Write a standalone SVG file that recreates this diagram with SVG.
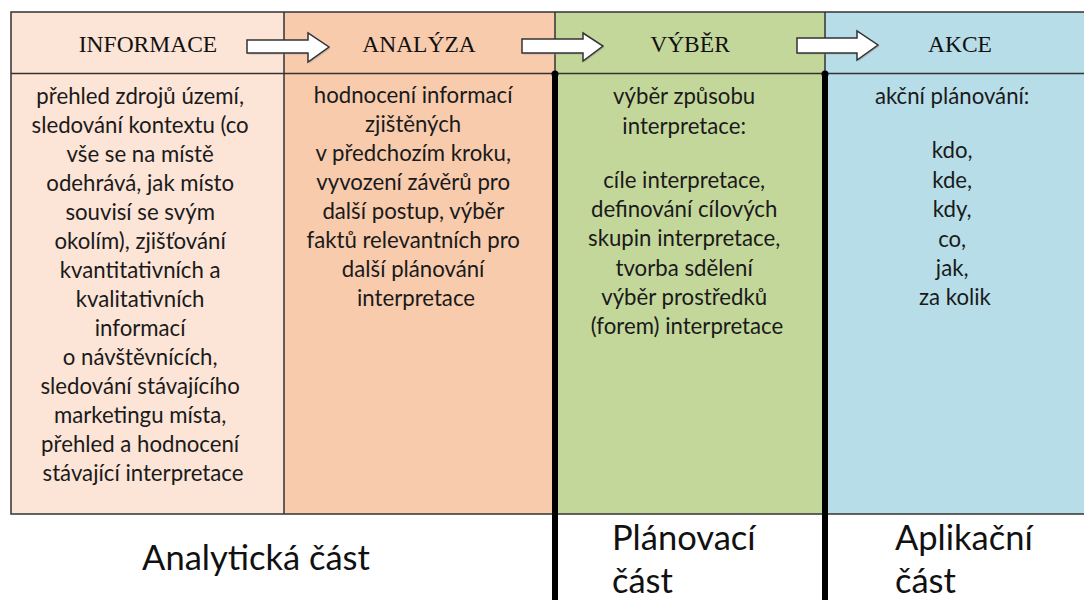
<svg xmlns="http://www.w3.org/2000/svg" width="1084" height="600" viewBox="0 0 1084 600">
<style>
.hdr{font-family:"Liberation Serif","Times New Roman",serif;font-size:23.5px;fill:#111;text-anchor:middle}
.body{font-family:Lato,"Open Sans",sans-serif;font-size:22.2px;fill:#1a1a1a;text-anchor:middle}
.big{font-family:Lato,"Open Sans",sans-serif;font-size:34.5px;fill:#111}
.grid{stroke:#333;stroke-width:1.5;fill:none}
.thick{stroke:#000;stroke-width:6}
.arrow{fill:#fff;stroke:#333;stroke-width:1.5;stroke-linejoin:miter}
.shadow{fill:#999;opacity:0.5}
</style>
<rect width="1084" height="600" fill="#fff"/>
<g id="col-informace">
<rect x="11" y="12" width="273" height="502" fill="#FCE4D6"/>
<text class="hdr" x="148" y="52">INFORMACE</text>
<text class="body">
<tspan x="143" y="104">přehled zdrojů území,</tspan>
<tspan x="143" y="133">sledování kontextu (co</tspan>
<tspan x="143" y="162">vše se na místě</tspan>
<tspan x="143" y="191">odehrává, jak místo</tspan>
<tspan x="143" y="220">souvisí se svým</tspan>
<tspan x="143" y="249">okolím), zjišťování</tspan>
<tspan x="143" y="278">kvantitativních a</tspan>
<tspan x="143" y="307">kvalitativních</tspan>
<tspan x="143" y="336">informací</tspan>
<tspan x="143" y="365">o návštěvnících,</tspan>
<tspan x="143" y="394">sledování stávajícího</tspan>
<tspan x="143" y="423">marketingu místa,</tspan>
<tspan x="143" y="452">přehled a hodnocení</tspan>
<tspan x="143" y="481">stávající interpretace</tspan>
</text>
</g>
<g id="col-analyza">
<rect x="284" y="12" width="271" height="502" fill="#F8CBAD"/>
<text class="hdr" x="419" y="52">ANALÝZA</text>
<text class="body">
<tspan x="416" y="103">hodnocení informací</tspan>
<tspan x="416" y="132">zjištěných</tspan>
<tspan x="416" y="161">v předchozím kroku,</tspan>
<tspan x="416" y="190">vyvození závěrů pro</tspan>
<tspan x="416" y="219">další postup, výběr</tspan>
<tspan x="416" y="248">faktů relevantních pro</tspan>
<tspan x="416" y="277">další plánování</tspan>
<tspan x="416" y="306">interpretace</tspan>
</text>
</g>
<g id="col-vyber">
<rect x="555" y="12" width="270" height="502" fill="#C4D79B"/>
<text class="hdr" x="690" y="52">VÝBĚR</text>
<text class="body">
<tspan x="687" y="104">výběr způsobu</tspan>
<tspan x="687" y="134">interpretace:</tspan>
<tspan x="687" y="188">cíle interpretace,</tspan>
<tspan x="687" y="217">definování cílových</tspan>
<tspan x="687" y="246">skupin interpretace,</tspan>
<tspan x="687" y="276">tvorba sdělení</tspan>
<tspan x="687" y="305">výběr prostředků</tspan>
<tspan x="687" y="334">(forem) interpretace</tspan>
</text>
</g>
<g id="col-akce">
<rect x="825" y="12" width="262" height="502" fill="#B7DEE8"/>
<text class="hdr" x="960" y="52">AKCE</text>
<text class="body">
<tspan x="955" y="104">akční plánování:</tspan>
<tspan x="955" y="158">kdo,</tspan>
<tspan x="955" y="188">kde,</tspan>
<tspan x="955" y="217">kdy,</tspan>
<tspan x="955" y="247">co,</tspan>
<tspan x="955" y="276">jak,</tspan>
<tspan x="955" y="305">za kolik</tspan>
</text>
</g>
<g id="grid">
<rect class="grid" x="11" y="12" width="1080" height="502"/>
<line class="grid" x1="11" y1="73.5" x2="1084" y2="73.5" stroke-width="2"/>
<line class="grid" x1="284" y1="12" x2="284" y2="514"/>
<line class="grid" x1="555" y1="12" x2="555" y2="73"/>
<line class="grid" x1="825" y1="12" x2="825" y2="73"/>
</g>
<g id="connectors">
<line class="thick" x1="555" y1="73" x2="555" y2="600"/>
<line class="thick" x1="825" y1="73" x2="825" y2="600"/>
<circle cx="555" cy="74" r="3.5" fill="#000"/>
<circle cx="825" cy="74" r="3.5" fill="#000"/>
<g transform="translate(1.5,1.5)">
<path class="shadow" d="M247 40 H308 V33 L329 47 L308 62 V53 H247 Z"/>
<path class="shadow" d="M522 39 H583 V33 L603 46 L583 61 V53 H522 Z"/>
<path class="shadow" d="M797 38 H857 V31 L878 45 L857 60 V53 H797 Z"/>
</g>
<path class="arrow" d="M247 40 H308 V33 L329 47 L308 62 V53 H247 Z"/>
<path class="arrow" d="M522 39 H583 V33 L603 46 L583 61 V53 H522 Z"/>
<path class="arrow" d="M797 38 H857 V31 L878 45 L857 60 V53 H797 Z"/>
</g>
<g id="labels">
<text class="big" x="256" y="570" text-anchor="middle">Analytická část</text>
<text class="big" x="612" y="550">Plánovací</text>
<text class="big" x="612" y="593">část</text>
<text class="big" x="895" y="550">Aplikační</text>
<text class="big" x="895" y="593">část</text>
</g>
</svg>
